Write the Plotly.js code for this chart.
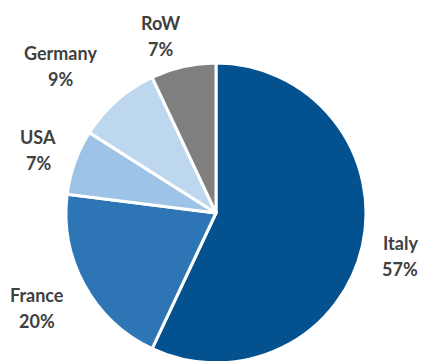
<!DOCTYPE html>
<html><head><meta charset="utf-8">
<script src="https://cdn.plot.ly/plotly-3.0.1.min.js"></script>
<style>html,body{margin:0;padding:0;overflow:hidden;background:#fff}#c{width:422px;height:366px}</style>
</head><body><div id="c"></div>
<script>
const categories = ["Italy", "France", "USA", "Germany", "RoW"];
const shares = [57, 20, 7, 9, 7];
const colors = ["#03528F", "#2E75B6", "#9DC3E6", "#BDD7EE", "#7F7F7F"];
// label anchor positions (pixels: center x, name line y)
const labelPos = [[400, 243], [37, 295], [38, 137], [60, 53], [160, 23]];

const W = 422, H = 366;
const cx = 216, cy = 213, r = 150;
const annotations = [];
categories.forEach((c, i) => {
  const [x, y] = labelPos[i];
  [c, shares[i] + "%"].forEach((t, k) => annotations.push({
    text: t, x: x / W, y: 1 - (y + k * 26) / H, xref: "paper", yref: "paper",
    xanchor: "center", yanchor: "middle", showarrow: false,
    font: {family: "Lato", size: 18, color: "#404040", weight: 700}
  }));
});

Plotly.newPlot("c", [{
  type: "pie", labels: categories, values: shares, sort: false,
  direction: "clockwise", rotation: 0, textinfo: "none", hoverinfo: "none",
  marker: {colors: colors, line: {color: "#ffffff", width: 3}},
  domain: {x: [(cx - r) / W, (cx + r) / W], y: [1 - (cy + r) / H, 1 - (cy - r) / H]}
}], {
  width: W, height: H, margin: {l: 0, r: 0, t: 0, b: 0}, showlegend: false,
  paper_bgcolor: "#fff", annotations: annotations
}, {staticPlot: true});
</script></body></html>
